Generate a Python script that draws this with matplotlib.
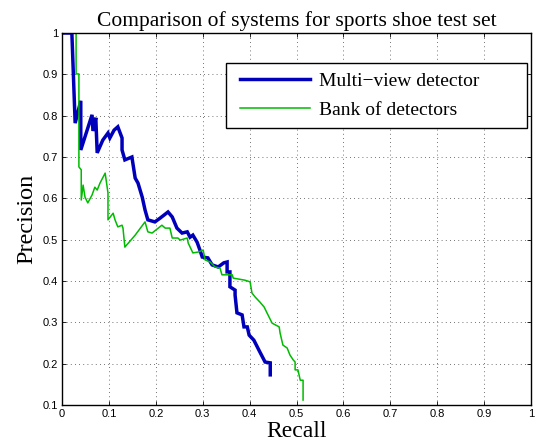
import matplotlib
matplotlib.use("Agg")
import matplotlib.pyplot as plt
from matplotlib.patches import Rectangle

# Multi-view detector (recall, precision)
mv_recall = [0, 0.021, 0.028, 0.040, 0.040, 0.064, 0.066, 0.072, 0.075, 0.087, 0.098,
             0.102, 0.111, 0.119, 0.128, 0.128, 0.134, 0.149, 0.156, 0.162, 0.171,
             0.177, 0.183, 0.198, 0.209, 0.226, 0.235, 0.245, 0.256, 0.267, 0.273,
             0.279, 0.288, 0.294, 0.299, 0.311, 0.320, 0.333, 0.345, 0.352, 0.352,
             0.358, 0.358, 0.369, 0.369, 0.373, 0.384, 0.388, 0.395, 0.399, 0.409,
             0.422, 0.433, 0.444, 0.444]
mv_precision = [1.0, 1.0, 0.782, 0.836, 0.717, 0.802, 0.763, 0.795, 0.710, 0.741, 0.758,
                0.746, 0.765, 0.773, 0.746, 0.717, 0.693, 0.700, 0.649, 0.637, 0.603,
                0.572, 0.548, 0.543, 0.552, 0.567, 0.555, 0.528, 0.516, 0.519, 0.506,
                0.511, 0.494, 0.475, 0.458, 0.456, 0.439, 0.434, 0.444, 0.446, 0.422,
                0.422, 0.386, 0.378, 0.366, 0.323, 0.318, 0.289, 0.289, 0.269, 0.257,
                0.228, 0.204, 0.202, 0.173]

# Bank of detectors (recall, precision)
bank_recall = [0, 0.030, 0.030, 0.036, 0.036, 0.041, 0.041, 0.045, 0.049, 0.055, 0.064,
               0.070, 0.075, 0.081, 0.092, 0.098, 0.098, 0.109, 0.113, 0.119, 0.128,
               0.130, 0.134, 0.156, 0.177, 0.183, 0.192, 0.213, 0.220, 0.230, 0.235,
               0.247, 0.252, 0.267, 0.269, 0.279, 0.290, 0.301, 0.305, 0.316, 0.326,
               0.337, 0.341, 0.363, 0.365, 0.390, 0.401, 0.405, 0.412, 0.422, 0.431,
               0.437, 0.448, 0.463, 0.465, 0.471, 0.480, 0.486, 0.493, 0.497, 0.497,
               0.503, 0.508, 0.514, 0.514]
bank_precision = [1.0, 1.0, 0.901, 0.901, 0.676, 0.669, 0.596, 0.632, 0.603, 0.589, 0.608,
                  0.627, 0.620, 0.637, 0.661, 0.613, 0.548, 0.564, 0.548, 0.531, 0.535,
                  0.528, 0.482, 0.511, 0.543, 0.519, 0.516, 0.535, 0.528, 0.528, 0.504,
                  0.504, 0.499, 0.504, 0.492, 0.468, 0.470, 0.475, 0.451, 0.446, 0.434,
                  0.431, 0.415, 0.415, 0.407, 0.402, 0.398, 0.371, 0.361, 0.349, 0.337,
                  0.323, 0.298, 0.289, 0.274, 0.245, 0.238, 0.221, 0.209, 0.204, 0.185,
                  0.185, 0.160, 0.160, 0.112]

x_ticks = [0, 0.1, 0.2, 0.3, 0.4, 0.5, 0.6, 0.7, 0.8, 0.9, 1]
x_tick_labels = ["0", "0.1", "0.2", "0.3", "0.4", "0.5", "0.6", "0.7", "0.8", "0.9", "1"]
y_ticks = [0.1, 0.2, 0.3, 0.4, 0.5, 0.6, 0.7, 0.8, 0.9, 1]
y_tick_labels = ["0.1", "0.2", "0.3", "0.4", "0.5", "0.6", "0.7", "0.8", "0.9", "1"]

serif = ["Liberation Serif", "DejaVu Serif"]
sans = ["Liberation Sans", "DejaVu Sans"]

fig = plt.figure(figsize=(5.36, 4.46), dpi=100)
ax = fig.add_axes([0.1157, 0.0919, 0.875, 0.8341])

ax.plot(mv_recall, mv_precision, color="#0000bb", lw=2.5, label="Multi\u2212view detector",
        solid_joinstyle="miter")
ax.plot(bank_recall, bank_precision, color="#00bb00", lw=1.1, label="Bank of detectors")

ax.set_xlim(0, 1)
ax.set_ylim(0.1, 1)
ax.set_xticks(x_ticks)
ax.set_xticklabels(x_tick_labels, family=sans, fontsize=8)
ax.set_yticks(y_ticks)
ax.set_yticklabels(y_tick_labels, family=sans, fontsize=8)
ax.tick_params(direction="in", length=3, width=0.6, top=True, right=True, pad=3)
ax.grid(True, linestyle=(0, (1, 4)), color="#444444", linewidth=0.6)
for s in ax.spines.values():
    s.set_linewidth(1.0)

ax.set_title("Comparison of systems for sports shoe test set", family=serif, fontsize=15.5, pad=5)
ax.set_xlabel("Recall", family=serif, fontsize=17, labelpad=1)
ax.set_ylabel("Precision", family=serif, fontsize=17.5, labelpad=4)

ax.add_patch(Rectangle((0.35, 0.745), 0.641, 0.174, transform=ax.transAxes,
                       facecolor="white", edgecolor="black", linewidth=1.0, zorder=4.5))
leg = ax.legend(loc="center left", bbox_to_anchor=(0.35, 0.832), prop={"family": serif, "size": 14},
                frameon=False, handlelength=3.6, borderpad=0.7, labelspacing=0.6,
                handletextpad=0.45, borderaxespad=0)

fig.savefig("out.png", dpi=100)
